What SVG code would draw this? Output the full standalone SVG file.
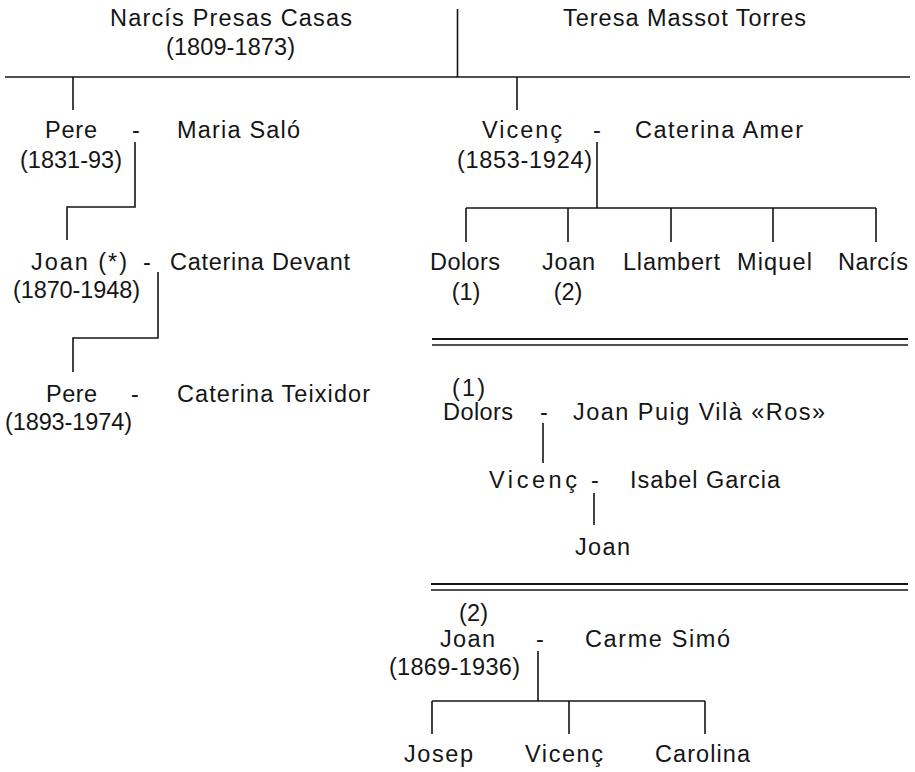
<svg xmlns="http://www.w3.org/2000/svg" width="915" height="772" viewBox="0 0 915 772">
<style>
text{font-family:"Liberation Sans",Arial,sans-serif;font-size:23.5px;fill:#151515}
.m{text-anchor:middle}
.c line,.c path{stroke:#151515;stroke-width:1.6;fill:none}
</style>
<rect width="915" height="772" fill="#ffffff"/>
<g class="c" id="connectors">
<line x1="5" y1="77" x2="910" y2="77"/>
<line x1="457.5" y1="9" x2="457.5" y2="77"/>
<line x1="73" y1="77" x2="73" y2="110"/>
<path d="M135 142V207H67V240"/>
<path d="M158 272V338H73V372"/>
<line x1="517" y1="77" x2="517" y2="110"/>
<path d="M597 142V208"/>
<line x1="466" y1="208" x2="876" y2="208"/>
<path d="M466 208V242M568 208V242M671 208V242M773 208V242M876 208V242"/>
<line x1="432" y1="339" x2="908" y2="339" style="stroke-width:2"/>
<line x1="432" y1="345" x2="908" y2="345"/>
<line x1="543" y1="423" x2="543" y2="463"/>
<line x1="594" y1="493" x2="594" y2="525"/>
<line x1="431" y1="584" x2="908" y2="584" style="stroke-width:2"/>
<line x1="431" y1="590" x2="908" y2="590"/>
<path d="M538 651V701"/>
<line x1="432" y1="701" x2="705" y2="701"/>
<path d="M432 701V734M569 701V734M705 701V734"/>
</g>
<g id="narcis-presas">
<text x="110" y="26" textLength="242" lengthAdjust="spacing">Narcís Presas Casas</text>
<text x="166" y="55" textLength="129" lengthAdjust="spacing">(1809-1873)</text>
</g>
<g id="teresa-massot">
<text x="563" y="26" textLength="243" lengthAdjust="spacing">Teresa Massot Torres</text>
</g>
<g id="pere-1">
<text x="45" y="138" textLength="52" lengthAdjust="spacing">Pere</text>
<text x="20" y="168" textLength="102" lengthAdjust="spacing">(1831-93)</text>
<text class="m" x="136" y="138">-</text>
<text x="177" y="138" textLength="123" lengthAdjust="spacing">Maria Saló</text>
</g>
<g id="joan-1870">
<text x="31" y="270" textLength="96" lengthAdjust="spacing">Joan (*)</text>
<text x="13" y="298" textLength="127" lengthAdjust="spacing">(1870-1948)</text>
<text class="m" x="147" y="270">-</text>
<text x="170" y="270" textLength="180" lengthAdjust="spacing">Caterina Devant</text>
</g>
<g id="pere-1893">
<text x="46" y="402" textLength="51" lengthAdjust="spacing">Pere</text>
<text x="5" y="430" textLength="127" lengthAdjust="spacing">(1893-1974)</text>
<text class="m" x="135" y="402">-</text>
<text x="177" y="402" textLength="193" lengthAdjust="spacing">Caterina Teixidor</text>
</g>
<g id="vicenc-1853">
<text x="482" y="138" textLength="80" lengthAdjust="spacing">Vicenç</text>
<text x="457" y="168" textLength="135" lengthAdjust="spacing">(1853-1924)</text>
<text class="m" x="597" y="138">-</text>
<text x="635" y="138" textLength="168" lengthAdjust="spacing">Caterina Amer</text>
</g>
<g id="dolors">
<text x="430" y="270" textLength="70" lengthAdjust="spacing">Dolors</text>
<text class="m" x="466" y="300">(1)</text>
</g>
<g id="joan-child">
<text x="542" y="270" textLength="53" lengthAdjust="spacing">Joan</text>
<text class="m" x="568" y="300">(2)</text>
</g>
<g id="llambert">
<text x="623" y="270" textLength="97" lengthAdjust="spacing">Llambert</text>
</g>
<g id="miquel">
<text x="737" y="270" textLength="75" lengthAdjust="spacing">Miquel</text>
</g>
<g id="narcis-child">
<text x="838" y="270" textLength="70" lengthAdjust="spacing">Narcís</text>
</g>
<g id="dolors-1">
<text x="452" y="396" textLength="33" lengthAdjust="spacing">(1)</text>
<text x="443" y="420" textLength="70" lengthAdjust="spacing">Dolors</text>
<text class="m" x="544" y="420">-</text>
<text x="573" y="420" textLength="252" lengthAdjust="spacing">Joan Puig Vilà «Ros»</text>
</g>
<g id="vicenc-puig">
<text x="489" y="488" textLength="88" lengthAdjust="spacing">Vicenç</text>
<text class="m" x="595" y="488">-</text>
<text x="630" y="488" textLength="150" lengthAdjust="spacing">Isabel Garcia</text>
</g>
<g id="joan-puig">
<text x="575" y="555" textLength="55" lengthAdjust="spacing">Joan</text>
</g>
<g id="joan-2">
<text x="459" y="621" textLength="29" lengthAdjust="spacing">(2)</text>
<text x="440" y="647" textLength="55" lengthAdjust="spacing">Joan</text>
<text x="389" y="675" textLength="131" lengthAdjust="spacing">(1869-1936)</text>
<text class="m" x="540" y="647">-</text>
<text x="585" y="647" textLength="145" lengthAdjust="spacing">Carme Simó</text>
</g>
<g id="josep">
<text x="404" y="762" textLength="69" lengthAdjust="spacing">Josep</text>
</g>
<g id="vicenc-child">
<text x="525" y="762" textLength="78" lengthAdjust="spacing">Vicenç</text>
</g>
<g id="carolina">
<text x="655" y="762" textLength="95" lengthAdjust="spacing">Carolina</text>
</g>
</svg>
